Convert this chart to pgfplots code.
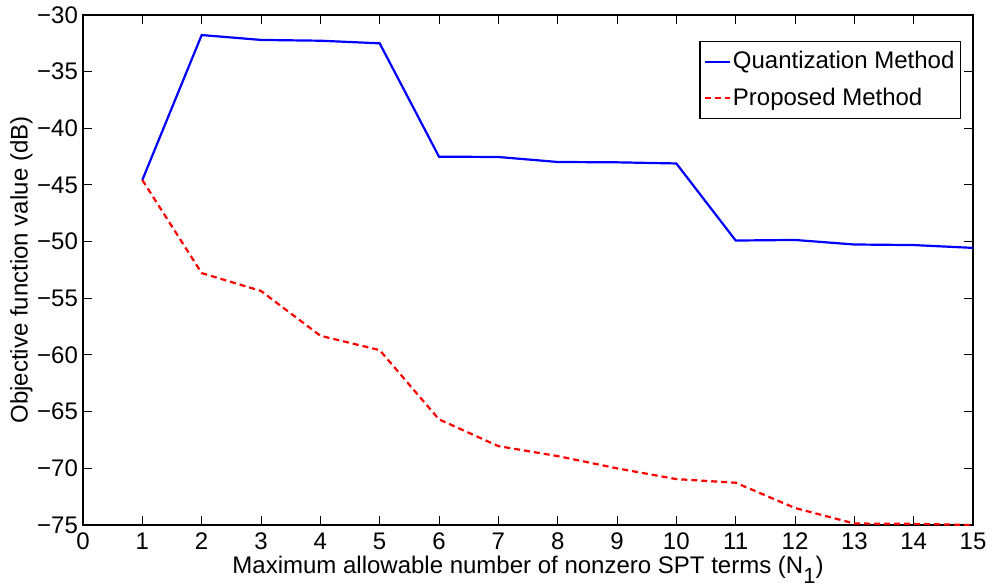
\documentclass[border=0pt]{standalone}
\usepackage{fontspec}
\setmainfont{Liberation Sans}
\usepackage{pgfplots}
\pgfplotsset{compat=1.18}

\begin{document}
\begin{tikzpicture}
\begin{axis}[
  scale only axis,
  width=445pt, height=255pt,
  xmin=0, xmax=15, ymin=-75, ymax=-30,
  xtick={0,1,...,15},
  ytick={-75,-70,...,-30},
  yticklabels={−75,−70,−65,−60,−55,−50,−45,−40,−35,−30},
  tick align=inside, tick pos=both,
  major tick length=4.5pt,
  axis line style={line width=0.6pt},
  every tick/.style={line width=0.5pt, black},
  tick label style={font=\fontsize{12}{14}\selectfont},
  /pgf/number format/assume math mode=true,
  xticklabel style={yshift=-0.5pt},
  yticklabel style={xshift=1pt},
  xlabel={Maximum allowable number of nonzero SPT terms (N\raisebox{-5pt}{\fontsize{11}{12}\selectfont 1})},
  ylabel={Objective function value (dB)},
  label style={font=\fontsize{12}{14}\selectfont},
  xlabel style={yshift=4pt},
  ylabel style={yshift=-4.5pt},
  legend style={font=\fontsize{12}{14}\selectfont, at={(rel axis cs:0.9865,0.949)}, anchor=north east,
    draw=black, line width=0.6pt, inner xsep=2pt, inner ysep=3pt, row sep=4pt,
    column sep=0pt, nodes={inner xsep=1pt},
    cells={anchor=west}},
  legend image code/.code={\draw[#1, line width=1pt] (0pt,0pt) -- (12.5pt,0pt);},
  legend cell align=left,
]
\addplot[blue, line width=1.1pt] coordinates {
  (1,-44.56) (2,-31.77) (3,-32.2) (4,-32.27) (5,-32.5) (6,-42.5) (7,-42.53)
  (8,-42.97) (9,-43.0) (10,-43.1) (11,-49.9) (12,-49.85) (13,-50.25) (14,-50.3) (15,-50.55)
};
\addlegendentry{Quantization Method}
\addplot[red, line width=1.1pt, dash pattern=on 3pt off 2pt] coordinates {
  (1,-44.56) (2,-52.77) (3,-54.35) (4,-58.3) (5,-59.57) (6,-65.68) (7,-68.04)
  (8,-68.92) (9,-70.0) (10,-70.95) (11,-71.27) (12,-73.5) (13,-74.87) (14,-74.9) (15,-75.0)
};
\addlegendentry{Proposed Method}
\coordinate (bl) at (rel axis cs:0,0);
\coordinate (tr) at (rel axis cs:1,1);
\end{axis}
\pgfresetboundingbox
\path ([shift={(-41.5pt,-31pt)}]bl) rectangle ([shift={(10pt,7.5pt)}]tr);
\end{tikzpicture}
\end{document}
